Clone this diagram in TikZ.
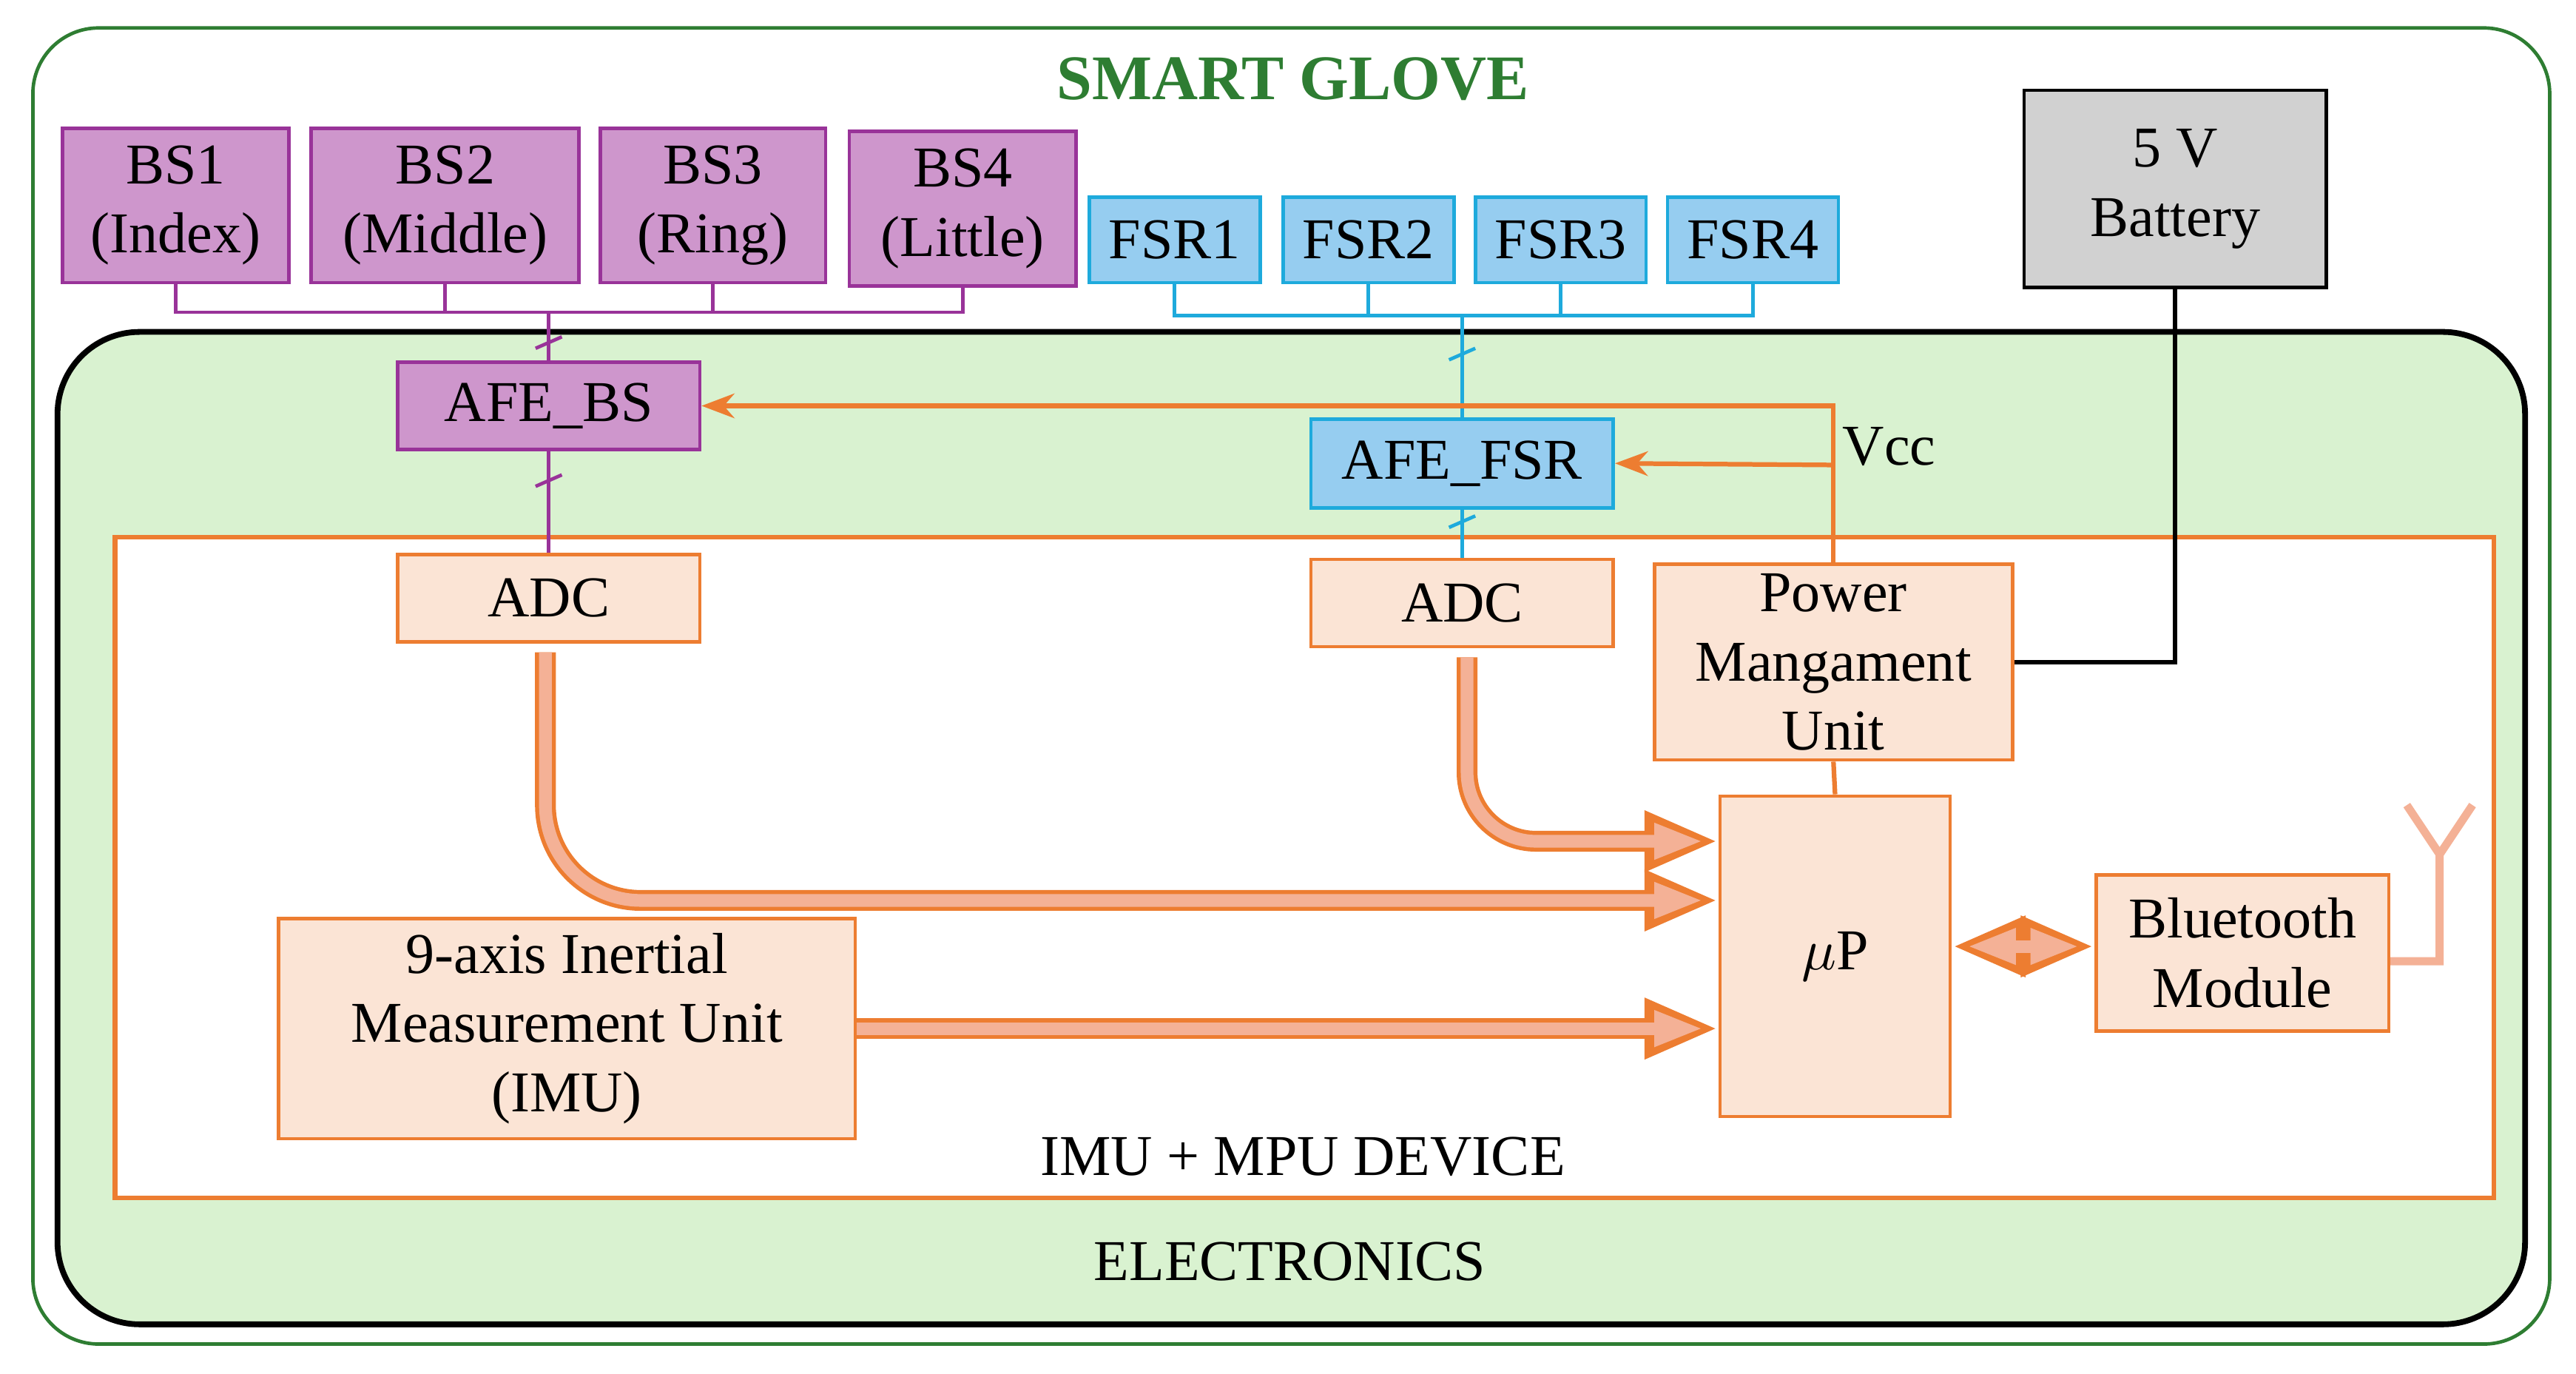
\documentclass[tikz,border=0pt]{standalone}
\usepackage{fontspec}
\setmainfont{Liberation Serif}
\usetikzlibrary{arrows.meta}
\definecolor{glovegreen}{RGB}{46,125,50}
\definecolor{elecfill}{RGB}{217,242,208}
\definecolor{bsfill}{RGB}{206,150,204}
\definecolor{bsline}{RGB}{153,51,153}
\definecolor{fsrfill}{RGB}{150,205,240}
\definecolor{fsrline}{RGB}{30,170,220}
\definecolor{mpuline}{RGB}{237,125,49}
\definecolor{mpufill}{RGB}{251,228,213}
\definecolor{arrowfill}{RGB}{244,177,150}
\tikzset{
  box/.style={draw, line width=0.6pt, inner sep=0pt, align=center,
    font=\fontsize{10}{12}\selectfont},
  bs/.style={box, fill=bsfill, draw=bsline},
  fsr/.style={box, fill=fsrfill, draw=fsrline},
  mpu/.style={box, fill=mpufill, draw=mpuline},
  fat/.style={line width=3.6pt, mpuline, -{Triangle[length=4.5mm,width=3.4mm]}},
  fatin/.style={line width=2.2pt, arrowfill, -{Triangle[length=3mm,width=2mm]}, shorten >=0.9mm},
}
\newcommand{\boxat}[4]{% name, corner1, corner2 in px
  \path (#2) coordinate (#1-a) (#3) coordinate (#1-b);}
\begin{document}
\begin{tikzpicture}[x=0.1mm,y=-0.1mm]
  \useasboundingbox (0,0) rectangle (1568,836);

  % Smart glove frame
  \draw[glovegreen, line width=0.6pt, rounded corners=4mm] (20,17) rectangle (1552,818);
  \node[text=glovegreen, font=\fontsize{11}{13}\selectfont\bfseries] (title) at (787,48) {SMART GLOVE};

  % Electronics frame
  \draw[fill=elecfill, line width=1pt, rounded corners=5mm] (35,202) rectangle (1537,806);
  \node[font=\fontsize{10}{12}\selectfont] (elec) at (785,768) {ELECTRONICS};

  % IMU + MPU device frame
  \draw[mpuline, fill=white, line width=0.8pt] (70,327) rectangle (1518,729);
  \node[font=\fontsize{10}{12}\selectfont] (dev) at (793,704) {IMU + MPU DEVICE};

  % Bend sensors
  \node[bs, minimum width=13.8mm, minimum height=9.4mm] (bs1) at (107,125) {BS1\\(Index)};
  \node[bs, minimum width=16.3mm, minimum height=9.4mm] (bs2) at (271,125) {BS2\\(Middle)};
  \node[bs, minimum width=13.7mm, minimum height=9.4mm] (bs3) at (434,125) {BS3\\(Ring)};
  \node[bs, minimum width=13.8mm, minimum height=9.4mm] (bs4) at (586,127) {BS4\\(Little)};

  % Force sensors
  \foreach \n/\x in {1/715,2/833,3/950,4/1067}
    \node[fsr, minimum width=10.4mm, minimum height=5.2mm] (fsr\n) at (\x,146) {FSR\n};

  \node[box, fill=black!18, draw=black, minimum width=18.4mm, minimum height=12mm] (bat) at (1324,115) {5 V\\Battery};

  % Front ends and converters
  \node[bs, minimum width=18.4mm, minimum height=5.3mm] (afebs) at (334,247) {AFE\_BS};
  \node[fsr, minimum width=18.4mm, minimum height=5.4mm] (afefsr) at (890,282) {AFE\_FSR};
  \node[mpu, minimum width=18.4mm, minimum height=5.3mm] (adc1) at (334,364) {ADC};
  \node[mpu, minimum width=18.4mm, minimum height=5.3mm] (adc2) at (890,367) {ADC};
  \node[mpu, minimum width=21.8mm, minimum height=11.9mm] (pmu) at (1116,403) {Power\\Mangament\\Unit};
  \node[mpu, minimum width=14mm, minimum height=19.5mm] (up) at (1117,582) {$\mu$P};
  \node[mpu, minimum width=17.8mm, minimum height=9.5mm] (bt) at (1365,580) {Bluetooth\\Module};
  \node[mpu, minimum width=35.1mm, minimum height=13.4mm] (imu) at (345,626) {9-axis Inertial\\Measurement Unit\\(IMU)};

  % Bend sensor bus
  \draw[bsline, line width=0.6pt] (bs1.south) |- (334,190) (bs2.south) |- (334,190)
    (bs3.south) |- (334,190) (bs4.south) |- (334,190) -- (afebs.north);
  \draw[bsline, line width=0.6pt] (afebs.south) -- (adc1.north);
  \draw[bsline, line width=0.6pt] (326,212) -- (342,205) (326,296) -- (342,289);

  % Force sensor bus
  \draw[fsrline, line width=0.6pt] (fsr1.south) |- (890,192) (fsr2.south) |- (890,192)
    (fsr3.south) |- (890,192) (fsr4.south) |- (890,192) -- (afefsr.north);
  \draw[fsrline, line width=0.6pt] (afefsr.south) -- (adc2.north);
  \draw[fsrline, line width=0.6pt] (882,219) -- (898,212) (882,321) -- (898,314);

  % Supply
  \draw[mpuline, line width=0.8pt, -{Stealth[length=2mm]}] (pmu.north) |- (afebs.east);
  \draw[mpuline, line width=0.8pt, -{Stealth[length=2mm]}] (1117,283) -- (afefsr.east);
  \node[font=\fontsize{10}{12}\selectfont] (vcc) at (1150,272) {Vcc};
  \draw[line width=0.8pt] (bat.south) |- (pmu.east);
  \draw[mpuline, line width=0.8pt] (pmu.south) -- (up.north);

  % Data paths
  \draw[fat] (332,397) -- (332,490) arc[start angle=180, end angle=90, radius=58] -- (1046,548);
  \draw[fatin] (332,397) -- (332,490) arc[start angle=180, end angle=90, radius=58] -- (1046,548);
  \draw[fat] (893,400) -- (893,470) arc[start angle=180, end angle=90, radius=42] -- (1046,512);
  \draw[fatin] (893,400) -- (893,470) arc[start angle=180, end angle=90, radius=42] -- (1046,512);
  \draw[fat] (imu.east |- 0,626) -- (1046,626);
  \draw[fatin] (imu.east |- 0,626) -- (1046,626);
  \draw[fat, {Triangle[length=4.5mm,width=3.4mm]}-{Triangle[length=4.5mm,width=3.4mm]}] (up.east |- 0,576) -- (bt.west |- 0,576);
  \draw[fatin, {Triangle[length=3mm,width=2mm]}-{Triangle[length=3mm,width=2mm]}, shorten <=0.9mm] (up.east |- 0,576) -- (bt.west |- 0,576);

  % Antenna
  \coordinate (ant) at (1485,520);
  \draw[arrowfill, line width=1.4pt] (bt.east |- 0,585) -| (ant) -- (1465,490) (ant) -- (1505,490);
\end{tikzpicture}
\end{document}
